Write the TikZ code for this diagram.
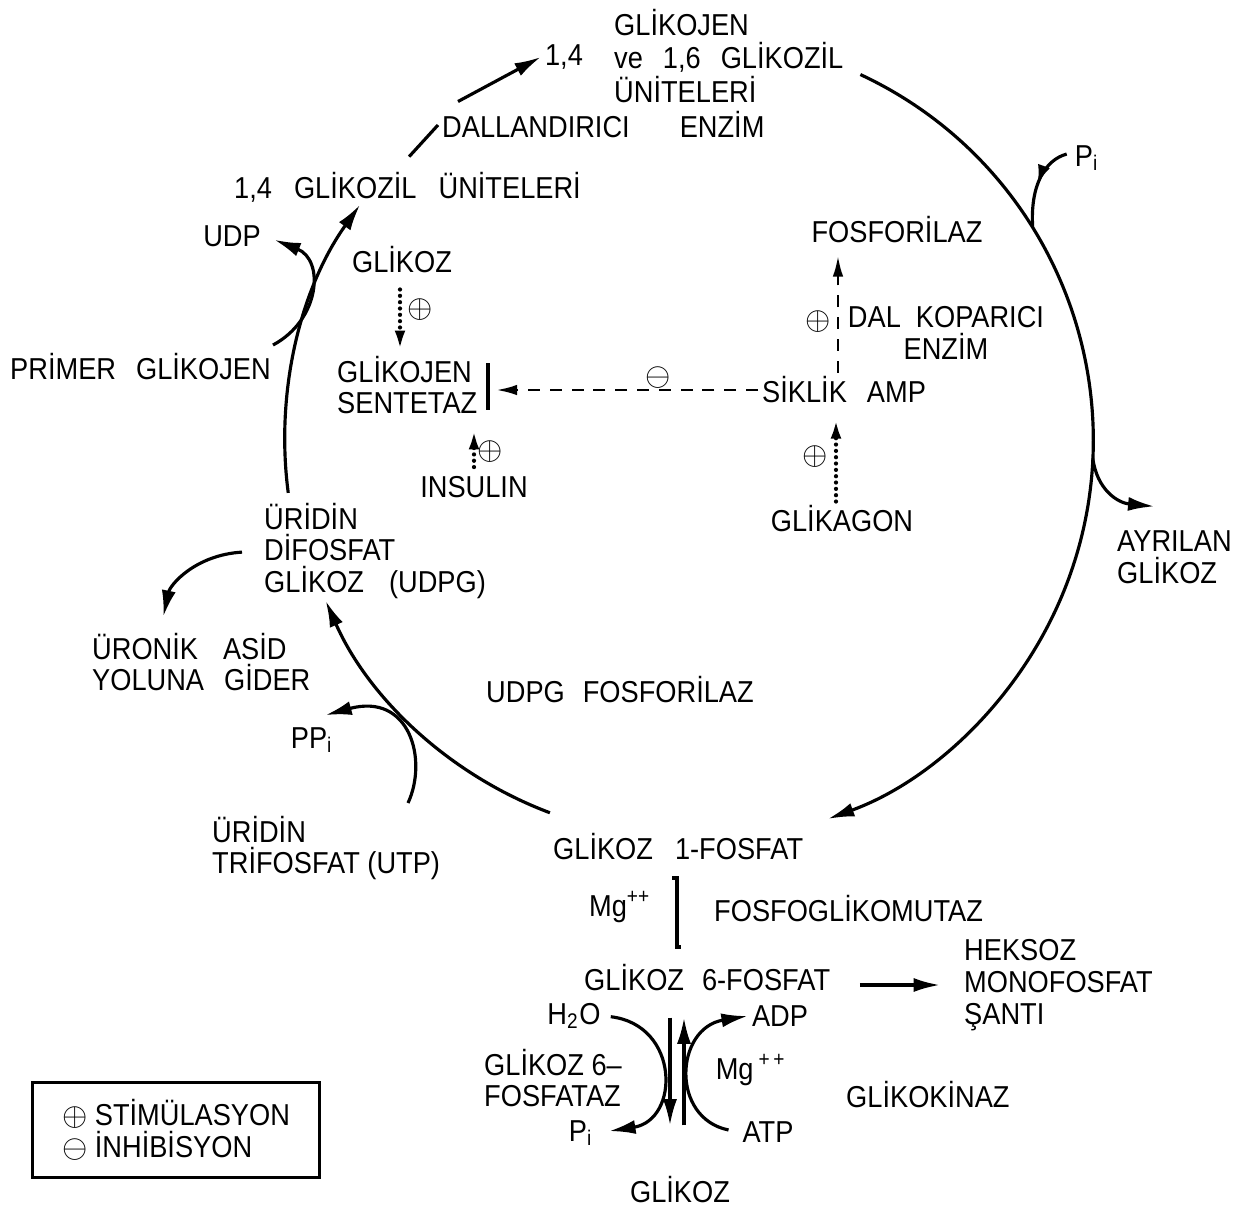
\documentclass[tikz,border=0pt]{standalone}
\usepackage{fontspec}
\setmainfont[FakeStretch=0.9]{Liberation Sans}
\usetikzlibrary{arrows.meta,calc,decorations.markings}

\begin{document}
\begin{tikzpicture}[x=0.01cm,y=-0.01cm,
        every node/.style={inner sep=1pt,font=\fontsize{8.6}{9}\selectfont},
        mainline/.style={line width=0.9pt},
        flow/.style={line width=0.9pt,-{Latex[length=7.5pt,width=4pt]}},
        dasharrow/.style={line width=0.8pt,dash pattern=on 3.4pt off 2.8pt,-{Latex[length=6pt,width=3pt]}},
        dotarrow/.style={line width=1.2pt,line cap=round,dash pattern=on 0pt off 1.8pt,-{Latex[length=6pt,width=3pt]}},
        sign/.style={inner sep=0pt,font=\fontsize{8.6}{9}\selectfont},
        midarrow/.style={postaction={decorate},decoration={markings,
            mark=at position #1 with {\arrow{Latex[length=5.5pt,width=3.6pt]}}}}
        ]
        \useasboundingbox (0,0) rectangle (1238,1208);

        % centre of the big cycle
        \coordinate (c) at (690,440);

        % upper part
        \node[anchor=west,align=left,font=\fontsize{8.6}{9.6}\selectfont] (glikojen) at (610,56)
            {GLİKOJEN\\ve\hspace{0.2cm}1,6\hspace{0.2cm}GLİKOZİL\\ÜNİTELERİ};
        \node (onefour) at (564,57) {1,4};
        \node[anchor=west] (dal) at (438,125) {DALLANDIRICI\hspace{0.5cm}ENZİM};
        \node[anchor=west] (g14) at (230,187) {1,4\hspace{0.22cm}GLİKOZİL\hspace{0.22cm}ÜNİTELERİ};
        \node (udp) at (232,236) {UDP};
        \node[anchor=west] (primer) at (6,367) {PRİMER\hspace{0.2cm}GLİKOJEN};
        \node[anchor=west,align=left] (udpg) at (260,551) {ÜRİDİN\\DİFOSFAT\\GLİKOZ\hspace{0.25cm}(UDPG)};
        \node[anchor=west,align=left] (uronik) at (88,662) {ÜRONİK\hspace{0.25cm}ASİD\\YOLUNA\hspace{0.2cm}GİDER};
        \node (ppi) at (312,740) {PP\textsubscript{i}};
        \node[anchor=west,align=left] (utp) at (208,848) {ÜRİDİN\\TRİFOSFAT (UTP)};
        \node[anchor=west] (udpgfos) at (482,690) {UDPG\hspace{0.18cm}FOSFORİLAZ};

        % regulation in the middle
        \node (glikoz) at (402,260) {GLİKOZ};
        \node[anchor=west,align=left] (sentetaz) at (333,385) {GLİKOJEN\\SENTETAZ};
        \node (insulin) at (474,487) {INSULIN};
        \node[anchor=west] (amp) at (758,390) {SİKLİK\hspace{0.2cm}AMP};
        \node (fosforilaz) at (897,230) {FOSFORİLAZ};
        \node[align=center] (dalkop) at (946,333) {DAL\hspace{0.15cm}KOPARICI\\ENZİM};
        \node (glikagon) at (842,519) {GLİKAGON};
        \node[sign] (s1) at (420,310) {$\oplus$};
        \node[sign] (s2) at (490,452) {$\oplus$};
        \node[sign] (s3) at (818,322) {$\oplus$};
        \node[sign] (s4) at (815,457) {$\oplus$};
        \node[sign] (s5) at (658,378) {$\ominus$};

        % right side
        \node (pi1) at (1087,158) {P\textsubscript{i}};
        \node[anchor=west,align=left] (ayrilan) at (1113,557) {AYRILAN\\GLİKOZ};

        % lower part
        \node[anchor=west] (g1p) at (549,847) {GLİKOZ\hspace{0.22cm}1-FOSFAT};
        \node (mg1) at (620,907) {Mg\textsuperscript{++}};
        \node[anchor=west] (fosfoglik) at (710,909) {FOSFOGLİKOMUTAZ};
        \node[anchor=west] (g6p) at (580,978) {GLİKOZ\hspace{0.18cm}6-FOSFAT};
        \node[anchor=west,align=left] (heksoz) at (960,985) {HEKSOZ\\MONOFOSFAT\\ŞANTI};
        \node (h2o) at (574,1016) {H\textsubscript{2}O};
        \node (adp) at (780,1016) {ADP};
        \node[anchor=west,align=left] (fosfataz) at (480,1078) {GLİKOZ 6--\\FOSFATAZ};
        \node (mg2) at (751,1070) {Mg\,\textsuperscript{+\,+}};
        \node[anchor=west] (glikokinaz) at (842,1095) {GLİKOKİNAZ};
        \node (pi2) at (581,1133) {P\textsubscript{i}};
        \node (atp) at (768,1132) {ATP};
        \node (glikoz2) at (680,1190) {GLİKOZ};

        % legend
        \node[draw,line width=0.9pt,align=left,minimum width=2.86cm,minimum height=0.95cm] (legend) at (176,1130)
            {$\oplus$ STİMÜLASYON\\$\ominus$ İNHİBİSYON};

        % the cycle
        \coordinate (r0) at ($(c)+(65:4.03cm)$);
        \coordinate (rpi) at ($(c)+(31.8:4.03cm)$);
        \coordinate (rgl) at ($(c)+(-2.6:4.03cm)$);
        \coordinate (l0) at ($(c)+(187.5:4.05cm)$);
        \coordinate (b0) at ($(c)+(249.4:3.98cm)$);
        \draw[flow] (r0) arc[start angle=65,end angle=-70,radius=4.03cm];
        \draw[flow] (l0) arc[start angle=187.5,end angle=144.5,radius=4.05cm];
        \draw[flow] (b0) arc[start angle=249.4,end angle=203.8,radius=3.98cm];

        % side branches
        \draw[mainline,midarrow=0.5] ([shift={(-4,-4)}]pi1.west) .. controls (1045,160) and (1030,185) .. (rpi);
        \draw[flow] (rgl) .. controls (1097,490) and (1118,503) .. ([shift={(-20,-20)}]ayrilan.north);
        \coordinate (udpstart) at (273,345);
        \draw[flow,shorten >=0.1cm] (udpstart) .. controls (320,320) and (325,260) .. (udp.east);
        \coordinate (utpup) at (408,803);
        \draw[flow] (utpup) .. controls (428,760) and (410,692) .. ([shift={(-12,-8)}]ppi.north east);
        \draw[flow,shorten <=0.18cm] (udpg.west) .. controls (195,555) and (170,585) .. ([shift={(-38,-12)}]uronik.north);
        \draw[mainline,shorten <=0.15cm] (g14.north -| 399,0) -- (dal.west);
        \draw[flow] ([shift={(20,-6)}]dal.north west) -- (onefour.west);

        % regulation arrows
        \draw[dotarrow,shorten <=0.12cm] (glikoz.south -| 400,0) -- (sentetaz.north -| 400,0);
        \draw[dotarrow,shorten <=0.05cm,shorten >=0.1cm] (insulin.north) -- (insulin.north |- sentetaz.south);
        \coordinate (bar) at (496,390);
        \draw[mainline] (488,363) -- (488,410);
        \draw[dasharrow] (amp.west) -- (amp.west -| bar);
        \draw[dasharrow,shorten >=0.08cm] (amp.north -| 838,0) -- (fosforilaz.south -| 838,0);
        \draw[dotarrow,shorten >=0.1cm] (glikagon.north -| 836,0) -- (amp.south -| 836,0);

        % glucose 1-P / 6-P
        \draw[mainline] (672,878) -- (677,878) -- (677,947) -- (681,947);
        \draw[flow] ([xshift=-1cm]heksoz.west) -- ([xshift=-0.2cm]heksoz.west);
        \draw[flow,shorten <=0.22cm,shorten >=0.47cm] (g6p.south -| 670,0) -- (glikoz2.north -| 670,0);
        \draw[flow,shorten <=0.47cm,shorten >=0.22cm] (glikoz2.north -| 684,0) -- (g6p.south -| 684,0);
        \draw[flow,shorten <=0.06cm,shorten >=0.12cm] (h2o.east) .. controls (680,1025) and (680,1120) .. (pi2.east);
        \draw[flow,shorten <=0.1cm] (atp.west) .. controls (670,1118) and (675,1028) .. (adp.west);
\end{tikzpicture}
\end{document}
